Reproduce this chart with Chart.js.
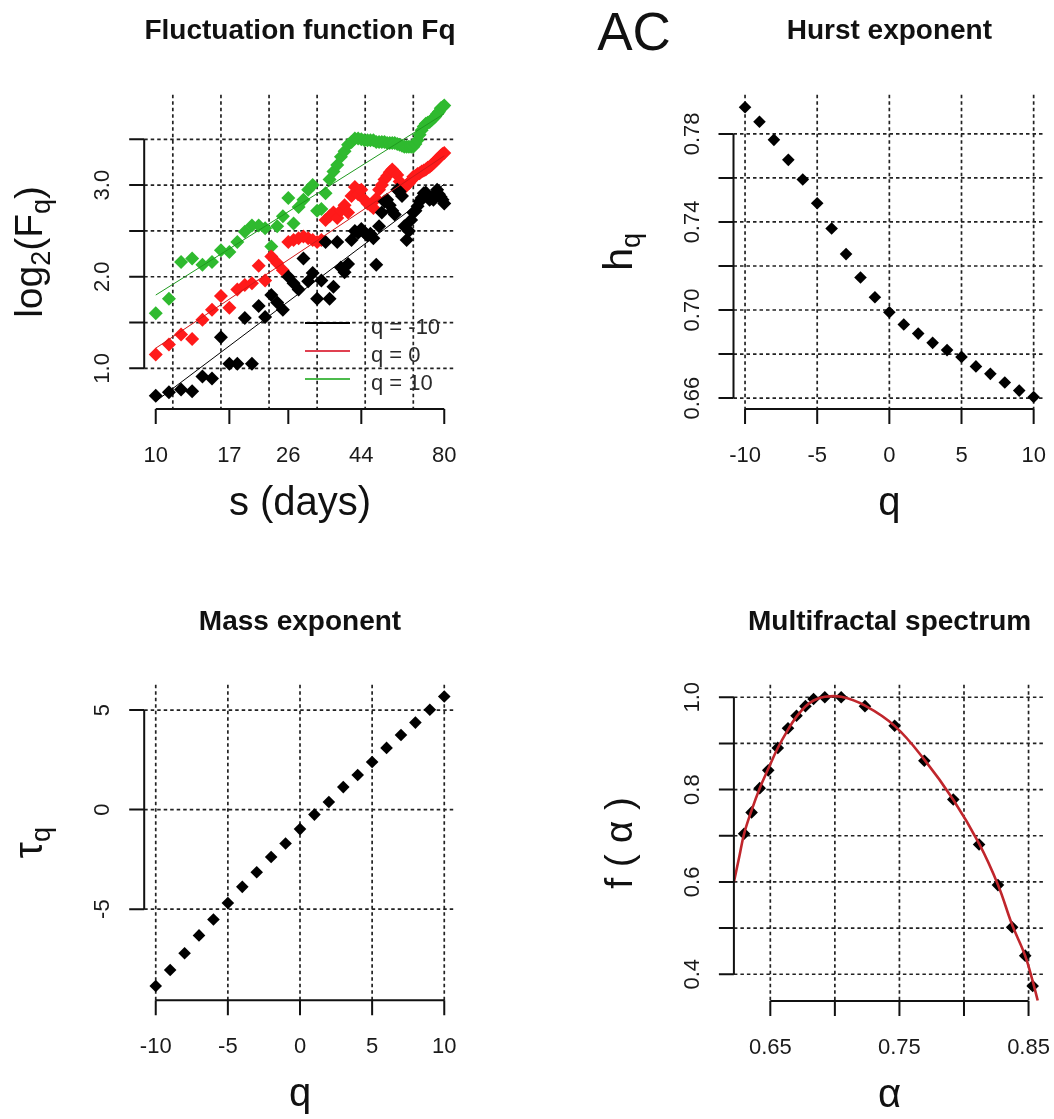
<!DOCTYPE html>
<html>
<head>
<meta charset="utf-8">
<script src="https://cdn.jsdelivr.net/npm/chart.js@4.4.1/dist/chart.umd.min.js"></script>
<style>
  body { margin: 0; background: #fff; }
  #page { position: relative; width: 1054px; height: 1119px; background: #fff; }
  canvas { position: absolute; }
</style>
</head>
<body>
<div id="page">
  <canvas id="fqChart" width="520" height="560" style="left:0;top:0"></canvas>
  <canvas id="hurstChart" width="534" height="560" style="left:520px;top:0"></canvas>
  <canvas id="massChart" width="520" height="559" style="left:0;top:560px"></canvas>
  <canvas id="spectrumChart" width="534" height="559" style="left:520px;top:560px"></canvas>
</div>
<script>
// ---- fluctuation function: scale s (days) and log2(Fq) for q = -10, 0, 10
const scales_s = [10, 11, 12, 13, 14, 15, 16, 17, 18, 19, 20, 21, 22, 23, 24, 25, 26, 27, 28, 29,
  30, 31, 32, 33, 34, 35, 36, 37, 38, 39, 40, 41, 42, 43, 44, 45, 46, 47, 48, 49,
  50, 51, 52, 53, 54, 55, 56, 57, 58, 59, 60, 61, 62, 63, 64, 65, 66, 67, 68, 69,
  70, 71, 72, 73, 74, 75, 76, 77, 78, 79, 80];
const fqNeg10 = [0.70, 0.74, 0.77, 0.75, 0.91, 0.89, 1.34, 1.05, 1.05, 1.55, 1.05, 1.68, 1.56, 1.80, 1.72, 1.64, 2.00, 1.93, 1.86, 2.20,
  1.95, 2.04, 1.76, 1.96, 2.38, 1.76, 1.89, 2.38, 2.10, 2.05, 2.14, 2.40, 2.50, 2.48, 2.52, 2.48, 2.45, 2.47, 2.42, 2.13,
  2.55, 2.70, 2.82, 2.84, 2.78, 2.72, 2.68, 2.95, 2.93, 2.88, 2.55, 2.40, 2.50, 2.62, 2.70, 2.72, 2.77, 2.82, 2.86, 2.91,
  2.92, 2.88, 2.84, 2.86, 2.84, 2.90, 2.95, 2.90, 2.87, 2.84, 2.80];
const fqZero = [1.15, 1.26, 1.37, 1.32, 1.53, 1.64, 1.79, 1.66, 1.86, 1.91, 1.93, 2.12, 1.96, 2.22, 2.15, 2.07, 2.38, 2.40, 2.42, 2.44,
  2.42, 2.40, 2.38, 2.40, 2.62, 2.66, 2.70, 2.64, 2.72, 2.78, 2.70, 2.88, 2.98, 2.90, 2.95, 2.84, 2.80, 2.78, 2.75, 2.85,
  2.95, 3.00, 3.06, 3.10, 3.14, 3.17, 3.14, 3.11, 3.04, 2.99, 2.97, 3.00, 3.02, 3.05, 3.09, 3.10, 3.12, 3.13, 3.15, 3.16,
  3.17, 3.19, 3.20, 3.22, 3.24, 3.26, 3.28, 3.30, 3.32, 3.34, 3.35];
const fqPos10 = [1.60, 1.76, 2.16, 2.20, 2.13, 2.16, 2.29, 2.27, 2.38, 2.49, 2.56, 2.56, 2.53, 2.33, 2.55, 2.66, 2.86, 2.58, 2.76, 2.84,
  2.95, 3.00, 2.72, 2.74, 2.91, 3.06, 3.15, 3.22, 3.31, 3.37, 3.44, 3.47, 3.51, 3.51, 3.50, 3.49, 3.49, 3.49, 3.49, 3.47,
  3.47, 3.47, 3.47, 3.46, 3.46, 3.46, 3.46, 3.45, 3.44, 3.43, 3.42, 3.42, 3.42, 3.42, 3.42, 3.45, 3.49, 3.55, 3.60, 3.64,
  3.67, 3.68, 3.69, 3.71, 3.73, 3.75, 3.78, 3.80, 3.84, 3.85, 3.87];
// fitted regression lines, value at s = 10 and s = 80
const fitEnds_s = [10, 80];
const fitNeg10 = [0.64, 3.01];
const fitZero = [1.22, 3.32];
const fitPos10 = [1.80, 3.78];
const fqTicks_s = [10, 17, 26, 44, 80];
const fqGrid_s = [11.31, 16, 22.63, 32, 45.25, 64];
const fqTicks_y = [1.0, 1.5, 2.0, 2.5, 3.0, 3.5];
const fqLabels_y = [1.0, 2.0, 3.0];

// ---- generalized Hurst exponent and mass exponent
const qValues = [-10, -9, -8, -7, -6, -5, -4, -3, -2, -1, 0, 1, 2, 3, 4, 5, 6, 7, 8, 9, 10];
const hq = [0.7921, 0.7855, 0.7773, 0.7682, 0.7593, 0.7485, 0.7370, 0.7254, 0.7148, 0.7058, 0.6990,
  0.6934, 0.6893, 0.6851, 0.6818, 0.6787, 0.6744, 0.6710, 0.6671, 0.6634, 0.6605];
const tauq = [-8.86, -8.06, -7.22, -6.32, -5.52, -4.69, -3.88, -3.15, -2.38, -1.70, -0.98,
  -0.25, 0.38, 1.13, 1.74, 2.39, 3.10, 3.75, 4.37, 5.02, 5.68];
const qTicks = [-10, -5, 0, 5, 10];
const hqTicks = [0.66, 0.68, 0.70, 0.72, 0.74, 0.76, 0.78];
const hqLabels = [0.66, 0.70, 0.74, 0.78];
const tauTicks = [-5, 0, 5];

// ---- multifractal spectrum
const alphaPts = [0.6297, 0.6355, 0.6418, 0.6484, 0.6558, 0.6637, 0.6703, 0.6772, 0.6835, 0.6922,
  0.7049, 0.7233, 0.7463, 0.7693, 0.7917, 0.8117, 0.8263, 0.8373, 0.8474, 0.8532];
const fAlphaPts = [0.7042, 0.7506, 0.8031, 0.8417, 0.8903, 0.9328, 0.9598, 0.9807, 0.9961, 1.0000,
  1.0000, 0.9807, 0.9382, 0.8625, 0.7784, 0.6811, 0.5931, 0.5019, 0.4402, 0.3745];
const curveAlpha = [0.6218, 0.6260, 0.6297, 0.6355, 0.6418, 0.6484, 0.6558, 0.6637, 0.6703, 0.6772, 0.6835,
  0.6922, 0.7049, 0.7233, 0.7463, 0.7693, 0.7917, 0.8117, 0.8263, 0.8373, 0.8474, 0.8532, 0.8571];
const curveF = [0.600, 0.655, 0.704, 0.755, 0.803, 0.845, 0.890, 0.930, 0.958, 0.980, 0.993,
  1.001, 1.001, 0.982, 0.938, 0.865, 0.778, 0.683, 0.594, 0.507, 0.440, 0.385, 0.343];
const alphaTicks = [0.65, 0.70, 0.75, 0.80, 0.85];
const alphaLabels = [0.65, 0.75, 0.85];
const fTicks = [0.4, 0.5, 0.6, 0.7, 0.8, 0.9, 1.0];
const fLabels = [0.4, 0.6, 0.8, 1.0];

const FONT = '"Liberation Sans", Arial, Helvetica, sans-serif';
const GREEN = '#2fba2f';

function pairs(xs, ys) {
  return xs.map((x, i) => ({ x: x, y: ys[i] }));
}

// text made of pieces with different sizes (for subscripts)
function richWidth(ctx, parts) {
  let w = 0;
  parts.forEach(p => { ctx.font = p.size + 'px ' + FONT; w += ctx.measureText(p.t).width; });
  return w;
}
function drawRich(ctx, parts, cx, baseY) {
  let xx = cx - richWidth(ctx, parts) / 2;
  ctx.textAlign = 'left';
  ctx.textBaseline = 'alphabetic';
  parts.forEach(p => {
    ctx.font = p.size + 'px ' + FONT;
    ctx.fillText(p.t, xx, baseY + (p.dy || 0));
    xx += ctx.measureText(p.t).width;
  });
}

// base-graphics look: dotted grid, detached axes, rotated y labels
const rStyle = {
  id: 'rStyle',
  beforeDatasetsDraw(chart, args, o) {
    const ctx = chart.ctx, a = chart.chartArea, x = chart.scales.x, y = chart.scales.y;
    ctx.save();
    ctx.strokeStyle = '#222';
    ctx.lineWidth = 1.7;
    ctx.setLineDash([3.5, 3]);
    ctx.beginPath();
    o.xGrid.forEach(v => {
      const px = x.getPixelForValue(v);
      ctx.moveTo(px, a.top); ctx.lineTo(px, a.bottom);
    });
    o.yGrid.forEach(v => {
      const py = y.getPixelForValue(v);
      ctx.moveTo(a.left, py); ctx.lineTo(a.right, py);
    });
    ctx.stroke();
    ctx.restore();
  },
  afterDraw(chart, args, o) {
    const ctx = chart.ctx, a = chart.chartArea, x = chart.scales.x, y = chart.scales.y;
    ctx.save();
    ctx.strokeStyle = '#111';
    ctx.fillStyle = '#1a1a1a';
    ctx.lineWidth = 2;
    ctx.setLineDash([]);
    ctx.beginPath();
    const xs = o.xTicks.map(v => x.getPixelForValue(v));
    ctx.moveTo(xs[0], a.bottom); ctx.lineTo(xs[xs.length - 1], a.bottom);
    xs.forEach(px => { ctx.moveTo(px, a.bottom); ctx.lineTo(px, a.bottom + 15); });
    const ys = o.yTicks.map(v => y.getPixelForValue(v));
    ctx.moveTo(a.left, ys[0]); ctx.lineTo(a.left, ys[ys.length - 1]);
    ys.forEach(py => { ctx.moveTo(a.left, py); ctx.lineTo(a.left - 15, py); });
    ctx.stroke();

    // tick labels
    ctx.font = '22px ' + FONT;
    ctx.textAlign = 'center';
    ctx.textBaseline = 'alphabetic';
    o.xLabels.forEach(v => {
      ctx.fillText(v.toFixed(o.xDigits), x.getPixelForValue(v), a.bottom + 53);
    });
    o.yLabels.forEach(v => {
      ctx.save();
      ctx.translate(a.left - 35, y.getPixelForValue(v));
      ctx.rotate(-Math.PI / 2);
      ctx.fillText(v.toFixed(o.yDigits), 0, 0);
      ctx.restore();
    });

    // main title
    ctx.fillStyle = '#111';
    ctx.font = 'bold 28px ' + FONT;
    ctx.fillText(o.title, (a.left + a.right) / 2, o.titleY);

    // axis titles
    drawRich(ctx, o.xTitle, (a.left + a.right) / 2, a.bottom + 106);
    ctx.save();
    ctx.translate(a.left - 102, (a.top + a.bottom) / 2);
    ctx.rotate(-Math.PI / 2);
    drawRich(ctx, o.yTitle, 0, 0);
    ctx.restore();

    if (o.tag) {
      ctx.font = '53px ' + FONT;
      ctx.textAlign = 'center';
      ctx.fillText(o.tag.text, o.tag.x, o.tag.y);
    }

    if (o.legend) {
      ctx.font = '22px ' + FONT;
      ctx.textAlign = 'left';
      o.legend.items.forEach((it, i) => {
        const ly = o.legend.y + i * o.legend.step;
        ctx.strokeStyle = it.color;
        ctx.lineWidth = 1.8;
        ctx.beginPath();
        ctx.moveTo(o.legend.x, ly); ctx.lineTo(o.legend.x + 45, ly);
        ctx.stroke();
        ctx.fillStyle = '#2a2a2a';
        ctx.fillText(it.text, o.legend.x + 66, ly + 11);
      });
    }
    ctx.restore();
  }
};

function pointSet(data, color, radius) {
  return {
    data: data,
    showLine: false,
    pointStyle: 'rectRot',
    pointRadius: radius,
    pointBorderWidth: 0,
    backgroundColor: color,
    borderColor: color,
    clip: false,
    order: 2
  };
}
function lineSet(data, color, width, tension) {
  return {
    data: data,
    showLine: true,
    pointRadius: 0,
    borderColor: color,
    borderWidth: width,
    tension: tension || 0,
    fill: false,
    order: 1
  };
}

function baseOptions(padding, xScale, yScale, style) {
  return {
    animation: false,
    responsive: false,
    events: [],
    layout: { padding: padding },
    plugins: { legend: { display: false }, tooltip: { enabled: false }, rStyle: style },
    scales: { x: Object.assign({ display: false }, xScale), y: Object.assign({ display: false }, yScale) }
  };
}

const fqChart = new Chart(document.getElementById('fqChart'), {
  type: 'scatter',
  data: {
    datasets: [
      pointSet(pairs(scales_s, fqNeg10), '#000000', 7),
      pointSet(pairs(scales_s, fqZero), '#ff1a1a', 7),
      pointSet(pairs(scales_s, fqPos10), GREEN, 7),
      lineSet(pairs(fitEnds_s, fitNeg10), '#000000', 1),
      lineSet(pairs(fitEnds_s, fitZero), '#d01818', 1),
      lineSet(pairs(fitEnds_s, fitPos10), '#1f9a1f', 1)
    ]
  },
  options: baseOptions(
    { left: 144.2, right: 64.2, top: 94.7, bottom: 150.9 },
    { type: 'logarithmic', min: 9.202, max: 86.94 },
    { type: 'linear', min: 0.555, max: 3.987 },
    {
      xGrid: fqGrid_s, yGrid: fqTicks_y,
      xTicks: fqTicks_s, xLabels: fqTicks_s, xDigits: 0,
      yTicks: fqTicks_y, yLabels: fqLabels_y, yDigits: 1,
      title: 'Fluctuation function Fq', titleY: 38.5,
      xTitle: [{ t: 's (days)', size: 40 }],
      yTitle: [{ t: 'log', size: 39 }, { t: '2', size: 27, dy: 8 }, { t: '(F', size: 39 }, { t: 'q', size: 27, dy: 8 }, { t: ')', size: 39 }],
      legend: {
        x: 305, y: 323, step: 28,
        items: [
          { text: 'q = -10', color: '#000000' },
          { text: 'q = 0', color: '#e04050' },
          { text: 'q = 10', color: '#4cbb4c' }
        ]
      }
    }
  ),
  plugins: [rStyle]
});

const hurstChart = new Chart(document.getElementById('hurstChart'), {
  type: 'scatter',
  data: { datasets: [pointSet(pairs(qValues, hq), '#000000', 6.3)] },
  options: baseOptions(
    { left: 213.5, right: 8.8, top: 94.7, bottom: 150.9 },
    { type: 'linear', min: -10.8, max: 10.8 },
    { type: 'linear', min: 0.6550, max: 0.7978 },
    {
      xGrid: qTicks, yGrid: hqTicks,
      xTicks: qTicks, xLabels: qTicks, xDigits: 0,
      yTicks: hqTicks, yLabels: hqLabels, yDigits: 2,
      title: 'Hurst exponent', titleY: 38.5,
      xTitle: [{ t: 'q', size: 40 }],
      yTitle: [{ t: 'h', size: 41 }, { t: 'q', size: 27, dy: 8 }],
      tag: { text: 'AC', x: 114, y: 50 }
    }
  ),
  plugins: [rStyle]
});

const massChart = new Chart(document.getElementById('massChart'), {
  type: 'scatter',
  data: { datasets: [pointSet(pairs(qValues, tauq), '#000000', 6.3)] },
  options: baseOptions(
    { left: 144.2, right: 64.2, top: 124.8, bottom: 118.7 },
    { type: 'linear', min: -10.8, max: 10.8 },
    { type: 'linear', min: -9.58, max: 6.27 },
    {
      xGrid: qTicks, yGrid: tauTicks,
      xTicks: qTicks, xLabels: qTicks, xDigits: 0,
      yTicks: tauTicks, yLabels: tauTicks, yDigits: 0,
      title: 'Mass exponent', titleY: 69.5,
      xTitle: [{ t: 'q', size: 40 }],
      yTitle: [{ t: 'τ', size: 41 }, { t: 'q', size: 27, dy: 8 }]
    }
  ),
  plugins: [rStyle]
});

const spectrumChart = new Chart(document.getElementById('spectrumChart'), {
  type: 'scatter',
  data: {
    datasets: [
      pointSet(pairs(alphaPts, fAlphaPts), '#000000', 6.3),
      lineSet(pairs(curveAlpha, curveF), '#c0262c', 2.6, 0.4)
    ]
  },
  options: baseOptions(
    { left: 213.9, right: 8.8, top: 124.8, bottom: 118 },
    { type: 'linear', min: 0.6218, max: 0.8629 },
    { type: 'linear', min: 0.342, max: 1.027 },
    {
      xGrid: alphaTicks, yGrid: fTicks,
      xTicks: alphaTicks, xLabels: alphaLabels, xDigits: 2,
      yTicks: fTicks, yLabels: fLabels, yDigits: 1,
      title: 'Multifractal spectrum', titleY: 69.5,
      xTitle: [{ t: 'α', size: 40 }],
      yTitle: [{ t: 'f ( α )', size: 39 }]
    }
  ),
  plugins: [rStyle]
});
</script>
</body>
</html>
